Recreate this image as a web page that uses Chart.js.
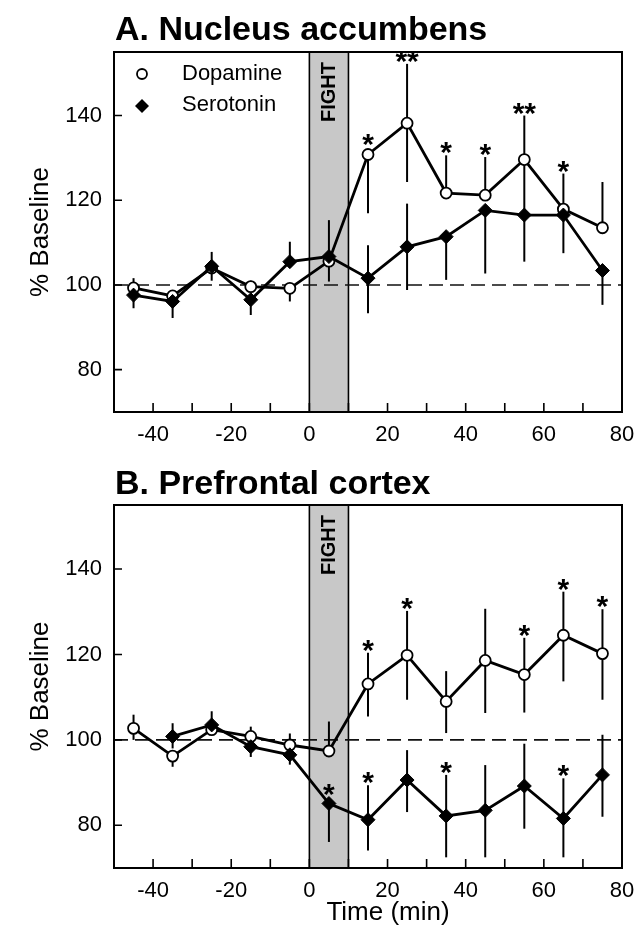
<!DOCTYPE html>
<html lang="en">
<head>
  <meta charset="UTF-8" />
  <title>Dopamine and serotonin around a fight</title>
  <script src="https://cdn.jsdelivr.net/npm/chart.js"></script>
  <style>
    body {
      margin: 0;
      width: 637px;
      height: 934px;
      overflow: hidden;
      background: #fff;
      font-family: "Liberation Sans", Arial, sans-serif;
    }
    .panel {
      position: absolute;
      left: 0;
      width: 637px;
    }
    .panel-title {
      position: absolute;
      left: 115px;
      font-weight: bold;
      font-size: 34px;
      line-height: 1;
      white-space: nowrap;
      color: #000;
    }
  </style>
</head>
<body>
  <div class="panel" style="top:0;height:460px"><canvas id="chartA" width="637" height="460"></canvas></div>
  <div class="panel" style="top:460px;height:474px"><canvas id="chartB" width="637" height="474"></canvas></div>
  <div class="panel-title" style="top:11px">A. Nucleus accumbens</div>
  <div class="panel-title" style="top:465px">B. Prefrontal cortex</div>

  <script>
    // sampling times (min), fight from 0 to 10
    const times = [-45, -35, -25, -15, -5, 5, 15, 25, 35, 45, 55, 65, 75];
    const fightStart = 0;
    const fightEnd = 10;
    const baseline = 100;

    const xTickLabels = [-40, -20, 0, 20, 40, 60, 80];
    const xMinorTicks = [-40, -30, -20, -10, 0, 10, 20, 30, 40, 50, 60, 70];
    const yTickLabels = [80, 100, 120, 140];

    // A. nucleus accumbens
    const daAccMean = [99.3, 97.4, 104.0, 99.6, 99.2, 105.6, 130.8, 138.2, 121.7, 121.2, 129.6, 117.9, 113.5];
    const daAccTop  = [101.6, 98.5, 104.0, 101.0, 99.2, 105.6, 130.8, 152.2, 130.6, 130.2, 140.0, 126.3, 124.3];
    const daAccBot  = [99.3, 97.4, 104.0, 99.6, 96.1, 100.8, 116.9, 124.3, 121.7, 121.2, 116.5, 117.9, 113.5];
    const daAccStars = ['', '', '', '', '', '', '*', '**', '*', '*', '**', '*', ''];

    const seAccMean = [97.6, 96.1, 104.4, 96.5, 105.5, 106.7, 101.6, 109.0, 111.4, 117.6, 116.5, 116.5, 103.4];
    const seAccTop  = [97.6, 96.1, 107.8, 96.5, 110.2, 115.3, 109.4, 119.2, 111.4, 117.6, 116.5, 116.5, 103.4];
    const seAccBot  = [94.5, 92.2, 101.0, 92.9, 105.5, 106.7, 93.3, 98.8, 101.2, 102.7, 105.5, 107.5, 95.3];

    // B. prefrontal cortex
    const daPfcMean = [102.7, 96.2, 102.4, 100.8, 98.8, 97.4, 113.1, 119.8, 109.0, 118.6, 115.3, 124.5, 120.2];
    const daPfcTop  = [105.9, 96.2, 102.4, 103.1, 101.5, 104.3, 120.4, 130.2, 116.1, 130.7, 123.9, 134.7, 130.6];
    const daPfcBot  = [100.0, 93.7, 102.4, 100.8, 98.8, 97.4, 105.5, 109.4, 101.6, 106.3, 106.4, 113.7, 109.4];
    const daPfcStars = ['', '', '', '', '', '', '*', '*', '', '', '*', '*', '*'];

    const sePfcMean = [null, 100.8, 103.5, 98.4, 96.5, 85.1, 81.3, 90.6, 82.2, 83.5, 89.2, 81.6, 91.8];
    const sePfcTop  = [null, 103.9, 106.7, 98.4, 96.5, 85.1, 89.4, 97.6, 91.8, 94.1, 99.1, 91.0, 101.2];
    const sePfcBot  = [null, 98.0, 103.5, 96.0, 94.2, 76.1, 74.1, 83.1, 72.5, 72.5, 79.2, 72.5, 82.0];
    const sePfcStars = ['', '', '', '', '', '*', '*', '', '*', '', '', '*', ''];

    const FONT = '"Liberation Sans", Arial, sans-serif';

    // band, dashed baseline, error bars, stars, box, inner ticks, legend
    const panelDecor = {
      id: 'panelDecor',
      beforeDatasetsDraw(chart) {
        const { ctx, chartArea: a, scales: { x, y } } = chart;
        ctx.save();
        const x0 = x.getPixelForValue(fightStart);
        const x1 = x.getPixelForValue(fightEnd);
        ctx.fillStyle = '#c8c8c8';
        ctx.fillRect(x0, a.top, x1 - x0, a.bottom - a.top);
        ctx.strokeStyle = '#000';
        ctx.lineWidth = 1.6;
        ctx.beginPath();
        ctx.moveTo(x0, a.top); ctx.lineTo(x0, a.bottom);
        ctx.moveTo(x1, a.top); ctx.lineTo(x1, a.bottom);
        ctx.stroke();

        // FIGHT label, reads bottom to top
        ctx.save();
        ctx.translate((x0 + x1) / 2, a.top + 10);
        ctx.rotate(-Math.PI / 2);
        ctx.fillStyle = '#000';
        ctx.font = 'bold 20px ' + FONT;
        ctx.textAlign = 'right';
        ctx.textBaseline = 'middle';
        ctx.fillText('FIGHT', 0, 1);
        ctx.restore();

        // baseline
        const yb = y.getPixelForValue(baseline);
        ctx.setLineDash([14, 7]);
        ctx.lineWidth = 1.6;
        ctx.strokeStyle = '#111';
        ctx.beginPath();
        ctx.moveTo(a.left, yb);
        ctx.lineTo(a.right, yb);
        ctx.stroke();
        ctx.setLineDash([]);

        // error bars
        ctx.lineWidth = 2;
        ctx.strokeStyle = '#000';
        chart.data.datasets.forEach(ds => {
          ds.data.forEach((p, i) => {
            if (p.y === null) return;
            const px = x.getPixelForValue(p.x);
            ctx.beginPath();
            ctx.moveTo(px, y.getPixelForValue(ds.errTop[i]));
            ctx.lineTo(px, y.getPixelForValue(ds.errBot[i]));
            ctx.stroke();
          });
        });
        ctx.restore();
      },
      afterDatasetsDraw(chart) {
        const { ctx, scales: { x, y } } = chart;
        ctx.save();
        ctx.fillStyle = '#000';
        ctx.font = 'bold 30px ' + FONT;
        ctx.textAlign = 'center';
        ctx.textBaseline = 'alphabetic';
        chart.data.datasets.forEach(ds => {
          if (!ds.stars) return;
          ds.data.forEach((p, i) => {
            if (!ds.stars[i]) return;
            const px = x.getPixelForValue(p.x);
            const cy = Math.min(y.getPixelForValue(ds.errTop[i]) - 10, y.getPixelForValue(p.y) - 17);
            ctx.fillText(ds.stars[i], px, cy + 17);
          });
        });
        ctx.restore();
      },
      afterDraw(chart, args, opts) {
        const { ctx, chartArea: a, scales: { x, y } } = chart;
        ctx.save();
        ctx.strokeStyle = '#000';
        ctx.lineWidth = 2;
        ctx.strokeRect(a.left, a.top, a.right - a.left, a.bottom - a.top);
        ctx.lineWidth = 1.6;
        ctx.beginPath();
        yTickLabels.forEach(v => {
          const py = y.getPixelForValue(v);
          ctx.moveTo(a.left, py); ctx.lineTo(a.left + 8, py);
        });
        xMinorTicks.forEach(v => {
          const px = x.getPixelForValue(v);
          ctx.moveTo(px, a.bottom); ctx.lineTo(px, a.bottom - 9);
        });
        ctx.stroke();

        if (opts.xTitle) {
          ctx.fillStyle = '#000';
          ctx.font = '26px ' + FONT;
          ctx.textAlign = 'center';
          ctx.textBaseline = 'middle';
          ctx.fillText(opts.xTitle, 388, a.bottom + 45);
        }

        if (opts.legend) {
          const lx = 142;
          ctx.font = '22px ' + FONT;
          ctx.textAlign = 'left';
          ctx.textBaseline = 'middle';
          ctx.lineWidth = 1.8;
          ctx.beginPath();
          ctx.arc(lx, 74, 5, 0, Math.PI * 2);
          ctx.fillStyle = '#fff';
          ctx.fill();
          ctx.stroke();
          ctx.fillStyle = '#000';
          ctx.beginPath();
          ctx.moveTo(lx, 99); ctx.lineTo(lx + 7, 106); ctx.lineTo(lx, 113); ctx.lineTo(lx - 7, 106);
          ctx.closePath();
          ctx.fill();
          ctx.fillText('Dopamine', 182, 74);
          ctx.fillText('Serotonin', 182, 105);
        }
        ctx.restore();
      }
    };

    function series(label, mean, top, bot, stars, isDopamine) {
      return {
        label: label,
        data: times.map((t, i) => ({ x: t, y: mean[i] })),
        errTop: top,
        errBot: bot,
        stars: stars,
        borderColor: '#000',
        borderWidth: 2.8,
        pointStyle: isDopamine ? 'circle' : 'rectRot',
        pointRadius: isDopamine ? 5.5 : 7,
        pointBackgroundColor: isDopamine ? '#fff' : '#000',
        pointBorderColor: '#000',
        pointBorderWidth: isDopamine ? 1.8 : 1,
        order: isDopamine ? 2 : 1,
        tension: 0
      };
    }

    function buildPanel(id, padTop, xAxisHeight, xTitle, datasets, legend) {
      return new Chart(document.getElementById(id), {
        type: 'line',
        data: { datasets: datasets },
        options: {
          responsive: false,
          animation: false,
          events: [],
          layout: { padding: { top: padTop, right: 15, left: 0, bottom: 0 } },
          scales: {
            x: {
              type: 'linear',
              min: -50,
              max: 80,
              grid: { display: false, drawTicks: false },
              border: { display: false },
              afterBuildTicks: s => { s.ticks = xTickLabels.map(v => ({ value: v })); },
              afterFit: s => {
                s.height = xAxisHeight;
                // let the last label hang past the plot edge, as in the figure
                s.paddingLeft = 0;
                s.paddingRight = 0;
              },
              ticks: { color: '#000', font: { family: FONT, size: 22 }, padding: 10, maxRotation: 0, autoSkip: false }
            },
            y: {
              min: 70,
              max: 155,
              grid: { display: false, drawTicks: false },
              border: { display: false },
              afterBuildTicks: s => { s.ticks = yTickLabels.map(v => ({ value: v })); },
              afterFit: s => {
                s.width = 114;
                s.paddingTop = 0;
                s.paddingBottom = 0;
              },
              ticks: { color: '#000', font: { family: FONT, size: 22 }, padding: 12 },
              title: {
                display: true,
                text: '% Baseline',
                color: '#000',
                font: { family: FONT, size: 26 },
                padding: { top: 25, bottom: 0 }
              }
            }
          },
          plugins: {
            legend: { display: false },
            tooltip: { enabled: false },
            panelDecor: { legend: legend, xTitle: xTitle }
          }
        },
        plugins: [panelDecor]
      });
    }

    buildPanel('chartA', 52, 48, '', [
      series('Dopamine', daAccMean, daAccTop, daAccBot, daAccStars, true),
      series('Serotonin', seAccMean, seAccTop, seAccBot, null, false)
    ], true);

    buildPanel('chartB', 45, 66, 'Time (min)', [
      series('Dopamine', daPfcMean, daPfcTop, daPfcBot, daPfcStars, true),
      series('Serotonin', sePfcMean, sePfcTop, sePfcBot, sePfcStars, false)
    ], false);
  </script>
</body>
</html>
